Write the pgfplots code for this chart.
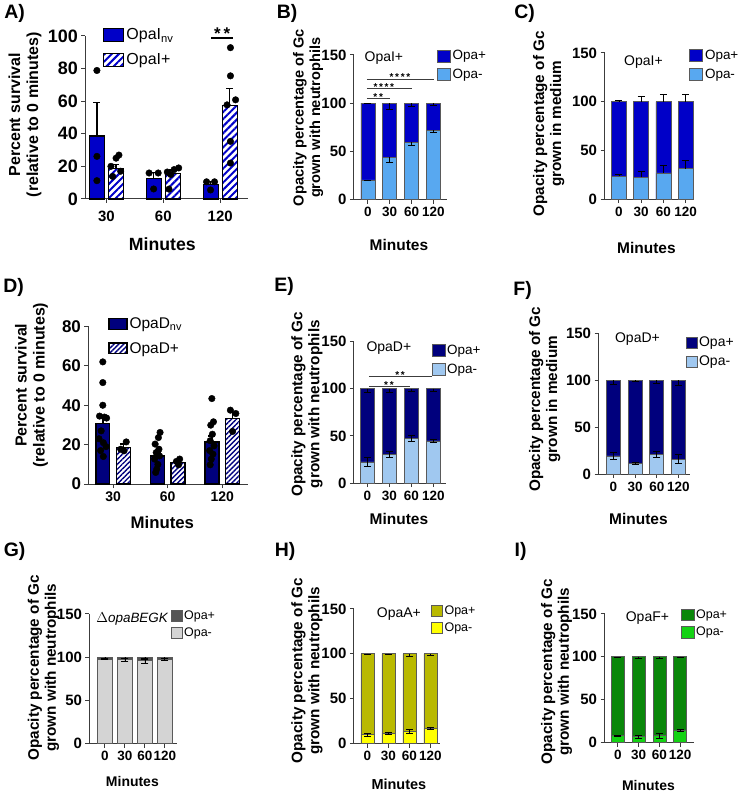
\documentclass[border=0pt]{standalone}
\usepackage{pgfplots}
\pgfplotsset{compat=1.18}
\usepackage{pgfplotstable}
\usepackage{fontspec}
\setmainfont{Liberation Sans}
\usetikzlibrary{patterns.meta}

\definecolor{blueA}{RGB}{0,0,200}
\definecolor{lblueA}{RGB}{88,168,240}
\definecolor{navyD}{RGB}{0,0,125}
\definecolor{lblueD}{RGB}{160,200,240}
\definecolor{gdark}{RGB}{85,85,85}
\definecolor{glight}{RGB}{212,212,212}
\definecolor{oliveH}{RGB}{185,185,0}
\definecolor{yelH}{RGB}{255,255,0}
\definecolor{gdk}{RGB}{10,135,10}
\definecolor{glt}{RGB}{20,210,20}
\definecolor{axc}{RGB}{60,60,60}
\definecolor{barc}{RGB}{90,90,90}

\pgfplotsset{
  base/.style={scale only axis, axis lines=left, axis line style={-, line width=1pt, draw=axc},
    tick style={line width=1pt, draw=axc}, tick align=outside, major tick length=4pt,
    clip=false, ymin=0, anchor=south west, /pgf/number format/assume math mode=true,
    legend cell align=left},
  stk/.style={base, ymax=150, ytick={0,50,100,150}, xtick={0,1,2,3}, xticklabels={0,30,60,120},
    yticklabel style={font=\bfseries\fontsize{15}{17}\selectfont},
    xticklabel style={font=\bfseries\fontsize{13.5}{15}\selectfont},
    legend image code/.code={\draw[##1] (0pt,-6pt) rectangle (13pt,6pt);},
    legend style={anchor=north west, draw=none, fill=none, font=\fontsize{13.5}{15}\selectfont, row sep=4pt}},
}

% #1 table #2 dark #3 light #4 bar width #5 dark err dir #6 light err dir
\newcommand\stackplot[6]{%
\addlegendimage{fill=#2, draw=barc, line width=0.6pt}\addlegendentry{Opa+}
\addlegendimage{fill=#3, draw=barc, line width=0.6pt}\addlegendentry{Opa-}
\addplot[ybar, bar width=#4, bar shift=0pt, fill=#2, draw=barc, line width=0.6pt, forget plot,
  error bars/.cd, y dir=#5, y explicit, error bar style={black, line width=0.7pt},
  error mark options={rotate=90, black, mark size=3.5pt, line width=0.7pt}] table[x=x, y=plus, y error=eplus]{#1};
\addplot[ybar, bar width=#4, bar shift=0pt, fill=#3, draw=barc, line width=0.6pt, forget plot,
  error bars/.cd, y dir=#6, y explicit, error bar style={black, line width=0.7pt},
  error mark options={rotate=90, black, mark size=3.5pt, line width=0.7pt}] table[x=x, y=minus, y error=eminus]{#1};
}

% ---------- data ----------
\pgfplotstableread{
x y e
0.833 38.6 20.5
1.833 12.7 3.3
2.833 8.8 1.7
}\tAnv
\pgfplotstableread{
x y e
1.167 18.5 2.4
2.167 15.5 2.2
3.167 57.4 10.5
}\tAp
\pgfplotstableread{
x y
0.833 78.8
0.833 26.1
0.833 11.2
1.22 26.9
1.17 25
1.08 20
1.25 17
1.11 13.8
1.75 15.9
1.91 15.9
1.83 6.1
2.27 19
2.19 18
2.07 16.5
2.13 15
2.10 6
2.76 10.5
2.90 10.5
2.83 5.5
3.18 92.8
3.18 75.5
3.27 60.8
3.12 57.7
3.18 35.3
3.18 22
}\tApts

\pgfplotstableread{
x y e
0.812 30.8 3.4
1.812 14.3 2.0
2.812 21.4 3.0
}\tDnv
\pgfplotstableread{
x y e
1.188 18.6 1.7
2.188 10.8 0.8
3.188 33.2 3.3
}\tDp
\pgfplotstableread{
x y
0.81 62
0.81 51.5
0.81 40
0.75 34.5
0.84 34
0.88 33.5
0.78 27
0.74 23
0.82 21
0.87 19
0.77 17
0.82 14
1.24 21.4
1.14 17.7
1.20 16.9
1.86 26.2
1.83 23.6
1.77 20.3
1.84 17.7
1.79 16
1.85 14.3
1.76 12.7
1.82 10
1.80 7.6
1.78 5.9
2.22 12.7
2.16 11.5
2.20 9.8
2.81 43.4
2.84 31.6
2.79 29.9
2.82 25.3
2.78 22
2.85 19.4
2.77 17
2.83 15.2
2.80 12.7
2.78 9.8
3.15 37.5
3.25 35.8
3.19 26.7
}\tDpts

\pgfplotstableread{
x minus eminus plus eplus
0 20.5 0.6 100 0.7
1 44.0 5.0 100 6.0
2 59.3 2.8 100 3.5
3 71.7 2.0 100 2.5
}\tB
\pgfplotstableread{
x minus eminus plus eplus
0 23.3 1.8 100 1.5
1 22.3 6.0 100 5.0
2 26.8 7.8 100 7.0
3 31.2 8.5 100 7.5
}\tC
\pgfplotstableread{
x minus eminus plus eplus
0 22.5 4.5 100 4.0
1 30.5 3.0 100 3.5
2 47.5 3.0 100 3.0
3 44.7 2.0 100 2.5
}\tE
\pgfplotstableread{
x minus eminus plus eplus
0 19.5 4.0 100 4.0
1 11.8 1.0 100 1.0
2 21.0 3.0 100 3.0
3 16.0 5.0 100 5.0
}\tF
\pgfplotstableread{
x minus eminus plus eplus
0 97.5 0.5 100 1.0
1 97.0 1.5 100 2.0
2 96.0 3.0 100 3.0
3 97.3 1.5 100 2.0
}\tG
\pgfplotstableread{
x minus eminus plus eplus
0 10.0 1.5 100 1.0
1 11.5 1.5 100 1.0
2 13.5 2.5 100 2.5
3 17.0 1.5 100 2.0
}\tH
\pgfplotstableread{
x minus eminus plus eplus
0 8.0 0.5 100 0.5
1 7.0 2.0 100 1.5
2 8.0 2.5 100 2.0
3 14.0 1.0 100 1.0
}\tI

\begin{document}
\begin{tikzpicture}[x=1pt,y=1pt]
\path (0,0) rectangle (750,794);

% ================= A =================
\begin{axis}[base, at={(83pt,594.7pt)}, width=163pt, height=163.3pt,
  xmin=0.632, xmax=3.491, ymax=100, ytick={0,20,40,60,80,100},
  xtick={1,2,3}, xticklabels={30,60,120},
  yticklabel style={font=\bfseries\fontsize{18}{20}\selectfont},
  xticklabel style={font=\bfseries\fontsize{15}{17}\selectfont, yshift=-5pt},
  legend image code/.code={\draw[#1] (0pt,-6.5pt) rectangle (20pt,6.5pt);},
  legend style={at={(axis description cs:0.09,1.07)}, anchor=north west, draw=none, fill=none,
    font=\fontsize{16}{18}\selectfont, row sep=8pt}]
\addlegendimage{fill=blueA, draw=black, line width=1.2pt}
\addlegendentry{OpaI\textsubscript{nv}}
\addlegendimage{pattern={Lines[angle=45,distance=5pt,line width=2pt]}, pattern color=blueA, draw=black, line width=1.2pt}
\addlegendentry{OpaI+}
\addplot[ybar, bar width=15pt, bar shift=0pt, fill=blueA, draw=black, line width=1.2pt, forget plot,
  error bars/.cd, y dir=plus, y explicit, error bar style={black, line width=1.2pt},
  error mark options={rotate=90, black, mark size=3.5pt, line width=1.2pt}] table[x=x,y=y,y error=e]{\tAnv};
\addplot[ybar, bar width=15pt, bar shift=0pt, pattern={Lines[angle=45,distance=5pt,line width=2pt]}, pattern color=blueA, draw=black, line width=1.2pt, forget plot,
  error bars/.cd, y dir=plus, y explicit, error bar style={black, line width=1.2pt},
  error mark options={rotate=90, black, mark size=3.5pt, line width=1.2pt}] table[x=x,y=y,y error=e]{\tAp};
\addplot[only marks, mark=*, mark size=3.3pt, mark options={fill=black, draw=black}, forget plot] table[x=x,y=y]{\tApts};
\draw[line width=1.8pt, black] (axis cs:2.84,98.8) -- (axis cs:3.23,98.8);
\node[font=\bfseries\fontsize{17}{17}\selectfont, anchor=base] at (axis cs:3.035,97.5) {*\,*};
\end{axis}

% ================= B =================
\begin{axis}[stk, at={(352pt,594pt)}, width=93pt, height=145pt, xmin=-0.642, xmax=3.62,
  legend style={at={(axis description cs:0.86,1.06)}}]
\stackplot{\tB}{blueA}{lblueA}{14pt}{minus}{minus}
\draw[line width=0.8pt, axc] (axis cs:-0.05,104.4) -- (axis cs:1.0,104.4);
\draw[line width=0.8pt, axc] (axis cs:-0.05,114.8) -- (axis cs:2.0,114.8);
\draw[line width=0.8pt, axc] (axis cs:-0.05,125) -- (axis cs:3.03,125);
\node[font=\bfseries\fontsize{10}{10}\selectfont, anchor=base] at (axis cs:0.47,102.5) {*\,*};
\node[font=\bfseries\fontsize{10}{10}\selectfont, anchor=base] at (axis cs:0.73,112.9) {*\,*\,*\,*};
\node[font=\bfseries\fontsize{10}{10}\selectfont, anchor=base] at (axis cs:1.47,123.1) {*\,*\,*\,*};
\end{axis}

% ================= C =================
\begin{axis}[stk, at={(603pt,594.5pt)}, width=90pt, height=146.5pt, xmin=-0.65, xmax=3.39,
  legend style={at={(axis description cs:0.91,1.05)}}]
\stackplot{\tC}{blueA}{lblueA}{15pt}{plus}{plus}
\end{axis}

% ================= D =================
\begin{axis}[base, at={(86pt,309pt)}, width=160pt, height=158pt,
  xmin=0.547, xmax=3.476, ymax=80, ytick={0,20,40,60,80},
  xtick={1,2,3}, xticklabels={30,60,120},
  yticklabel style={font=\bfseries\fontsize{17}{19}\selectfont},
  xticklabel style={font=\bfseries\fontsize{14}{16}\selectfont},
  legend image code/.code={\draw[#1] (0pt,-5.5pt) rectangle (18pt,5.5pt);},
  legend style={at={(axis description cs:0.105,1.08)}, anchor=north west, draw=none, fill=none,
    font=\fontsize{15.5}{17}\selectfont, row sep=8pt}]
\addlegendimage{fill=navyD, draw=black, line width=1.2pt}
\addlegendentry{OpaD\textsubscript{nv}}
\addlegendimage{pattern={Lines[angle=45,distance=3.5pt,line width=1.4pt]}, pattern color=navyD, draw=black, line width=1.2pt}
\addlegendentry{OpaD+}
\addplot[ybar, bar width=14pt, bar shift=0pt, fill=navyD, draw=black, line width=1.2pt, forget plot,
  error bars/.cd, y dir=plus, y explicit, error bar style={black, line width=1.2pt},
  error mark options={rotate=90, black, mark size=3.5pt, line width=1.2pt}] table[x=x,y=y,y error=e]{\tDnv};
\addplot[ybar, bar width=14pt, bar shift=0pt, pattern={Lines[angle=45,distance=3.5pt,line width=1.4pt]}, pattern color=navyD, draw=black, line width=1.2pt, forget plot,
  error bars/.cd, y dir=plus, y explicit, error bar style={black, line width=1.2pt},
  error mark options={rotate=90, black, mark size=3.5pt, line width=1.2pt}] table[x=x,y=y,y error=e]{\tDp};
\addplot[only marks, mark=*, mark size=3.3pt, mark options={fill=black, draw=black}, forget plot] table[x=x,y=y]{\tDpts};
\end{axis}

% ================= E =================
\begin{axis}[stk, at={(352pt,310pt)}, width=92pt, height=142pt, xmin=-0.614, xmax=3.57,
  legend style={at={(axis description cs:0.81,1.005)}}]
\stackplot{\tE}{navyD}{lblueD}{14pt}{minus}{both}
\draw[line width=0.8pt, axc] (axis cs:0.07,102.4) -- (axis cs:1.93,102.4);
\draw[line width=0.8pt, axc] (axis cs:0.07,113) -- (axis cs:2.93,113);
\node[font=\bfseries\fontsize{10}{10}\selectfont, anchor=base] at (axis cs:0.98,100.3) {*\,*};
\node[font=\bfseries\fontsize{10}{10}\selectfont, anchor=base] at (axis cs:1.49,110.9) {*\,*};
\end{axis}

% ================= F =================
\begin{axis}[stk, at={(597pt,319pt)}, width=92pt, height=141pt, xmin=-0.69, xmax=3.55,
  legend image code/.code={\draw[#1] (0pt,-5.5pt) rectangle (11pt,5.5pt);},
  legend style={at={(axis description cs:0.913,1.005)}, font=\fontsize{14}{16}\selectfont}]
\stackplot{\tF}{navyD}{lblueD}{14pt}{minus}{both}
\end{axis}

% ================= G =================
\begin{axis}[stk, at={(87pt,49pt)}, width=88pt, height=130pt, xmin=-0.775, xmax=3.625,
  legend image code/.code={\draw[#1] (0pt,-5.5pt) rectangle (11pt,5.5pt);},
  legend style={at={(axis description cs:0.887,1.055)}, font=\fontsize{12.5}{14}\selectfont, row sep=3pt}]
\stackplot{\tG}{gdark}{glight}{15pt}{minus}{both}
\end{axis}

% ================= H =================
\begin{axis}[stk, at={(352pt,49pt)}, width=86pt, height=135pt, xmin=-0.643, xmax=3.45,
  legend image code/.code={\draw[#1] (0pt,-5.5pt) rectangle (11pt,5.5pt);},
  legend style={at={(axis description cs:0.86,1.055)}, font=\fontsize{12.5}{14}\selectfont, row sep=3pt}]
\stackplot{\tH}{oliveH}{yelH}{13pt}{minus}{both}
\end{axis}

% ================= I =================
\begin{axis}[stk, at={(603pt,50pt)}, width=90pt, height=129pt, xmin=-0.65, xmax=3.68,
  legend style={at={(axis description cs:0.811,1.065)}, font=\fontsize{12.5}{14}\selectfont, row sep=3pt}]
\stackplot{\tI}{gdk}{glt}{13pt}{minus}{both}
\end{axis}

% ================= texts =================
\tikzset{plab/.style={font=\bfseries\fontsize{19.5}{21}\selectfont},
  ylab/.style={rotate=90, align=center, font=\bfseries\fontsize{15.3}{17}\selectfont},
  mins/.style={font=\bfseries\fontsize{15.5}{17}\selectfont},
  ttl/.style={font=\fontsize{14}{16}\selectfont}}
\node[plab] at (12,780) {A)};
\node[plab] at (285,780) {B)};
\node[plab] at (523,780) {C)};
\node[plab] at (11,506) {D)};
\node[plab] at (282,507) {E)};
\node[plab] at (521,503) {F)};
\node[plab] at (12,242) {G)};
\node[plab] at (283,242) {H)};
\node[plab] at (519,242) {I)};

\node[ylab, font=\bfseries\fontsize{16}{18}\selectfont] at (22.5,679) {Percent survival\\(relative to 0 minutes)};
\node[ylab, font=\bfseries\fontsize{16}{18}\selectfont] at (29,408) {Percent survival\\(relative to 0 minutes)};
\node[ylab, font=\bfseries\fontsize{14.6}{16.5}\selectfont] at (306,676) {Opacity percentage of Gc\\grown with neutrophils};
\node[ylab] at (547,670) {Opacity percentage of Gc\\grown in medium};
\node[ylab] at (305,389) {Opacity percentage of Gc\\grown with neutrophils};
\node[ylab] at (543,394) {Opacity percentage of Gc\\grown in medium};
\node[ylab] at (41,125) {Opacity percentage of Gc\\grown with neutrophils};
\node[ylab] at (305,122) {Opacity percentage of Gc\\grown with neutrophils};
\node[ylab] at (555,121) {Opacity percentage of Gc\\grown with neutrophils};

\node[mins, font=\bfseries\fontsize{17.7}{19}\selectfont] at (160,549) {Minutes};
\node[mins, font=\bfseries\fontsize{16.8}{19}\selectfont] at (160,271) {Minutes};
\node[mins] at (397,549) {Minutes};
\node[mins] at (645,546) {Minutes};
\node[mins] at (397,274) {Minutes};
\node[mins] at (637,274) {Minutes};
\node[mins, font=\bfseries\fontsize{14}{16}\selectfont] at (130,11) {Minutes};
\node[mins, font=\bfseries\fontsize{14.5}{16}\selectfont] at (397,8) {Minutes};
\node[mins, font=\bfseries\fontsize{14}{16}\selectfont] at (647,7) {Minutes};

\node[ttl] at (382,736) {OpaI+};
\node[ttl] at (642,732) {OpaI+};
\node[ttl] at (387,445) {OpaD+};
\node[ttl] at (636,454) {OpaD+};
\node[ttl, font=\fontsize{13.5}{15}\selectfont] at (130,174) {$\Delta$\textit{opaBEGK}};
\node[ttl] at (397,179) {OpaA+};
\node[ttl] at (646,175) {OpaF+};
\end{tikzpicture}
\end{document}
